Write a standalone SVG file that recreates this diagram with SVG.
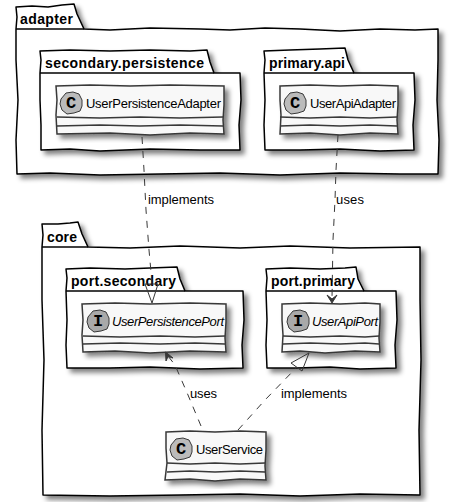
<svg xmlns="http://www.w3.org/2000/svg" width="454" height="502" viewBox="0 0 454 502">
<style>
.pkg{fill:#fff;stroke:#000;stroke-width:1.5;filter:url(#sh);stroke-linejoin:round}
.pl{fill:none;stroke:#000;stroke-width:1.5}
.box{fill:#f8f8f8;stroke:#383838;stroke-width:1.5;filter:url(#sh)}
.ln{fill:none;stroke:#383838;stroke-width:1.5}
.blob{stroke:#383838;stroke-width:1}
.c{fill:#bbb}.i{fill:#a9a9a9}
.pt{font:bold 14px "Liberation Sans",Arial,sans-serif;fill:#000}
.ct{font:13px "Liberation Sans",Arial,sans-serif;fill:#000}
.it{font-style:italic}
.g{font:bold 17px "Liberation Mono",monospace;fill:#000;text-anchor:middle}
.e{fill:none;stroke:#383838;stroke-width:1;stroke-dasharray:7 7}
.h{fill:none;stroke:#383838;stroke-width:1}
.ar{fill:#383838;stroke:#383838;stroke-width:1}
.el{font:13px "Liberation Sans",Arial,sans-serif;fill:#000}
</style>
<defs>
<filter id="sh" x="-10%" y="-10%" width="120%" height="125%">
<feGaussianBlur in="SourceAlpha" stdDeviation="2.5"/>
<feOffset dx="4" dy="4"/>
<feComponentTransfer><feFuncA type="linear" slope="0.5"/></feComponentTransfer>
<feMerge><feMergeNode/><feMergeNode in="SourceGraphic"/></feMerge>
</filter>
<path id="bl" d="M-10-4 L-5-10 L2-11 L8-9 L11-3 L11 3 L9 8 L3 10 L-4 11 L-9 7 L-11 1Z"/>
</defs>

<g id="adapter">
<path class="pkg" d="M16 29 L17 17 L16 7 L32 6 L48 7 L62 5 L74 4 L77 14 L84 29 L110 30 L150 28 L200 29 L230 30 L265 28 L300 29 L340 31 L380 29 L415 30 L438 29 L438 60 L437 100 L439 140 L438 174 L400 174 L340 173 L280 175 L220 173 L160 174 L100 175 L50 173 L17 174 L16 140 L18 100 L16 60Z"/>
<path class="pl" d="M16 29 L84 29"/>
<text class="pt" x="20" y="24" textLength="53" lengthAdjust="spacing">adapter</text>
</g>
<g id="secondary-persistence">
<path class="pkg" d="M40 73 L41 60 L40 51 L70 50 L110 51 L150 50 L190 51 L207 50 L210 62 L214 73 L240 73 L241 100 L239 125 L240 150 L200 150 L150 149 L100 151 L70 149 L41 150 L41 125 L40 100Z"/>
<path class="pl" d="M40 73 L214 73"/>
<text class="pt" x="45" y="68" textLength="159" lengthAdjust="spacing">secondary.persistence</text>
</g>
<g id="UserPersistenceAdapter">
<path class="box" d="M56 86 L90 85 L130 86 L170 85 L224 86 L224 105 L223 120 L224 134 L190 133 L150 135 L110 133 L57 134 L56 115 L57 100Z"/>
<path class="ln" d="M57 117 L100 118 L140 117 L180 118 L223 117M57 126 L100 125 L140 126 L180 125 L223 126"/>
<use href="#bl" class="blob c" x="71" y="103"/>
<text class="g" x="71" y="108">C</text>
<text class="ct" x="86" y="108" textLength="135" lengthAdjust="spacing">UserPersistenceAdapter</text>
</g>
<g id="primary-api">
<path class="pkg" d="M264 73 L265 60 L264 51 L290 50 L320 49 L345 48 L348 60 L354 73 L414 73 L415 100 L413 125 L414 150 L380 151 L340 149 L300 150 L265 150 L264 125 L265 100Z"/>
<path class="pl" d="M264 73 L354 73"/>
<text class="pt" x="269" y="68" textLength="76" lengthAdjust="spacing">primary.api</text>
</g>
<g id="UserApiAdapter">
<path class="box" d="M280 86 L310 85 L340 86 L370 85 L398 86 L398 105 L397 120 L398 134 L370 133 L340 135 L310 133 L280 134 L281 115 L280 100Z"/>
<path class="ln" d="M280 117 L310 118 L340 117 L370 118 L397 117M280 126 L310 125 L340 126 L370 125 L397 126"/>
<use href="#bl" class="blob c" x="295" y="103"/>
<text class="g" x="295" y="108">C</text>
<text class="ct" x="310" y="108" textLength="86" lengthAdjust="spacing">UserApiAdapter</text>
</g>

<g id="core">
<path class="pkg" d="M42 247 L43 235 L42 224 L58 224 L70 223 L78 222 L82 234 L88 247 L130 248 L180 246 L240 248 L290 246 L350 248 L420 247 L420 300 L421 360 L419 430 L420 495 L360 494 L300 496 L240 494 L180 495 L110 496 L43 495 L42 430 L44 360 L42 300Z"/>
<path class="pl" d="M42 247 L88 247"/>
<text class="pt" x="47" y="242" textLength="30" lengthAdjust="spacing">core</text>
</g>
<g id="port-secondary">
<path class="pkg" d="M66 291 L67 278 L66 269 L90 268 L125 269 L150 268 L177 267 L180 279 L185 291 L243 291 L244 320 L242 345 L243 368 L200 369 L150 367 L110 368 L67 368 L66 345 L67 320Z"/>
<path class="pl" d="M66 291 L185 291"/>
<text class="pt" x="71" y="286" textLength="105" lengthAdjust="spacing">port.secondary</text>
</g>
<g id="UserPersistencePort">
<path class="box" d="M82 304 L115 303 L150 304 L190 303 L226 304 L226 322 L225 338 L226 352 L190 351 L150 353 L115 351 L83 352 L82 335 L83 320Z"/>
<path class="ln" d="M83 336 L120 337 L160 336 L195 337 L225 336M83 344 L120 343 L160 344 L195 343 L225 344"/>
<use href="#bl" class="blob i" x="98" y="321"/>
<text class="g" x="98" y="326">I</text>
<text class="ct it" x="112" y="326" textLength="112" lengthAdjust="spacing">UserPersistencePort</text>
</g>
<g id="port-primary">
<path class="pkg" d="M266 291 L267 278 L266 269 L290 268 L320 269 L345 268 L356 267 L358 279 L364 291 L396 291 L397 320 L395 345 L396 368 L360 369 L330 367 L296 368 L267 368 L266 345 L267 320Z"/>
<path class="pl" d="M266 291 L364 291"/>
<text class="pt" x="271" y="286" textLength="84" lengthAdjust="spacing">port.primary</text>
</g>
<g id="UserApiPort">
<path class="box" d="M282 304 L310 303 L340 304 L365 303 L380 304 L380 322 L379 338 L380 352 L355 351 L325 353 L300 351 L282 352 L283 335 L282 320Z"/>
<path class="ln" d="M283 336 L310 337 L340 336 L365 337 L379 336M283 344 L310 343 L340 344 L365 343 L379 344"/>
<use href="#bl" class="blob i" x="298" y="321"/>
<text class="g" x="298" y="326">I</text>
<text class="ct it" x="312" y="326" textLength="66" lengthAdjust="spacing">UserApiPort</text>
</g>
<g id="UserService">
<path class="box" d="M166 432 L190 431 L215 432 L240 431 L266 432 L266 450 L265 466 L266 480 L240 479 L215 481 L190 479 L165 480 L167 463 L166 448Z"/>
<path class="ln" d="M167 463 L190 464 L215 463 L240 464 L265 463M167 472 L190 471 L215 472 L240 471 L265 472"/>
<use href="#bl" class="blob c" x="181" y="449"/>
<text class="g" x="181" y="454">C</text>
<text class="ct" x="196" y="454" textLength="67" lengthAdjust="spacing">UserService</text>
</g>

<g id="connectors">
<path class="e" d="M142 137 L144 170 L146 210 L149 250 L152 283"/>
<path class="h" d="M145 284 L152 303 L158 284 Z"/>
<path class="e" d="M338 135 L336 170 L335 200 L333 240 L332 298"/>
<path class="ar" d="M332 303 L337 295 L332 299 L327 295Z"/>
<path class="e" d="M201 426 L188 395 L175 365 L168 356"/>
<path class="ar" d="M165.5 352 L166 361 L168 356.5 L173 358Z"/>
<path class="e" d="M238 430 L265 400 L297 367"/>
<path class="h" d="M309 353 L291 363 L302 371Z"/>
</g>
<g id="labels">
<text class="el" x="148" y="204" textLength="66" lengthAdjust="spacing">implements</text>
<text class="el" x="336" y="204" textLength="28" lengthAdjust="spacing">uses</text>
<text class="el" x="190" y="398" textLength="27" lengthAdjust="spacing">uses</text>
<text class="el" x="281" y="398" textLength="66" lengthAdjust="spacing">implements</text>
</g>
</svg>
